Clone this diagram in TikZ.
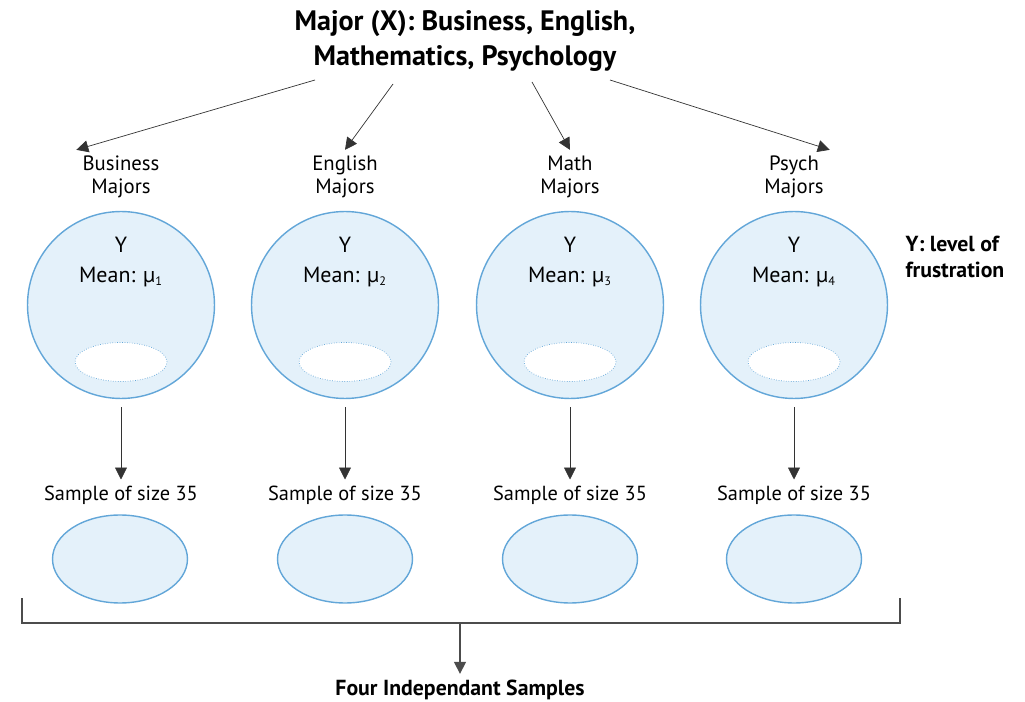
\documentclass[tikz,border=0pt]{standalone}
\usepackage{fontspec}
\setmainfont{PT Sans}
\usepackage{tikz}
\usetikzlibrary{positioning, shapes.geometric, arrows.meta}
\definecolor{popfill}{HTML}{E4F1FA}
\definecolor{popline}{HTML}{62A6D8}
\tikzset{
  ttl/.style={font=\fontsize{16}{20}\selectfont\bfseries, align=center},
  grp/.style={font=\fontsize{11.8}{13}\selectfont, align=center},
  pop/.style={circle, draw=popline, line width=0.8pt, fill=popfill, minimum size=3.74cm, inner sep=0pt},
  smp/.style={ellipse, draw=popline, fill=white, densely dotted, minimum width=1.84cm,
              minimum height=0.78cm, inner sep=0pt},
  sel/.style={ellipse, draw=popline, line width=0.8pt, fill=popfill, minimum width=2.7cm,
              minimum height=1.76cm, inner sep=0pt},
  txt/.style={font=\fontsize{12.5}{17}\selectfont, align=center},
  lbl/.style={font=\fontsize{11.6}{14}\selectfont},
  note/.style={font=\fontsize{12.4}{14.5}\selectfont\bfseries, align=left},
  tr/.style={-{Triangle[length=2.4mm, width=2.4mm]}, black!80},
  br/.style={black!70, line width=0.8pt}
}
\newcommand{\sbs}[1]{\textsubscript{\fontsize{7}{7}\selectfont #1}}
\begin{document}
\begin{tikzpicture}[x=0.02cm, y=-0.02cm]
  \useasboundingbox (0,0) rectangle (1025,702);
  % title
  \node[ttl] (major) at (465,41) {Major (X): Business, English,\\Mathematics, Psychology};
  % group labels
  \node[grp] (gbus) at (121,177) {Business\\Majors};
  \node[grp] (geng) at (345,177) {English\\Majors};
  \node[grp] (gmat) at (570,177) {Math\\Majors};
  \node[grp] (gpsy) at (794,177) {Psych\\Majors};
  \draw[tr] (315,80) -- (gbus.north west);
  \draw[tr] (393,84) -- (geng.north);
  \draw[tr] (532,82) -- (gmat.north);
  \draw[tr] (610,80) -- (gpsy.north east);
  % populations
  \node[pop] (pbus) at (121,305) {};
  \node[pop] (peng) at (345,305) {};
  \node[pop] (pmat) at (570,305) {};
  \node[pop] (ppsy) at (794,305) {};
  \node[txt] (ybus) at (121,262) {Y\\Mean: µ\sbs{1}};
  \node[txt] (yeng) at (345,262) {Y\\Mean: µ\sbs{2}};
  \node[txt] (ymat) at (570,262) {Y\\Mean: µ\sbs{3}};
  \node[txt] (ypsy) at (794,262) {Y\\Mean: µ\sbs{4}};
  \node[smp] (sbus) at (121,362) {};
  \node[smp] (seng) at (345,362) {};
  \node[smp] (smat) at (570,362) {};
  \node[smp] (spsy) at (794,362) {};
  \node[note] (ylab) at (955,257) {Y: level of\\frustration};
  % samples
  \node[lbl] (lbus) at (121,495) {Sample of size 35};
  \node[lbl] (leng) at (345,495) {Sample of size 35};
  \node[lbl] (lmat) at (570,495) {Sample of size 35};
  \node[lbl] (lpsy) at (794,495) {Sample of size 35};
  \draw[tr] (pbus.south) ++(0,8) -- (lbus.north);
  \draw[tr] (peng.south) ++(0,8) -- (leng.north);
  \draw[tr] (pmat.south) ++(0,8) -- (lmat.north);
  \draw[tr] (ppsy.south) ++(0,8) -- (lpsy.north);
  \node[sel] (ebus) at (120,559) {};
  \node[sel] (eeng) at (345,559) {};
  \node[sel] (emat) at (570,559) {};
  \node[sel] (epsy) at (794,559) {};
  % bracket
  \coordinate (bl) at (22,598);
  \coordinate (br) at (900,598);
  \coordinate (bm) at (460,623);
  \node[note] (four) at (460,690) {Four Independant Samples};
  \draw[br] (bl) |- (bm) -| (br);
  \draw[tr, br] (bm) -- (four.north);
\end{tikzpicture}
\end{document}
